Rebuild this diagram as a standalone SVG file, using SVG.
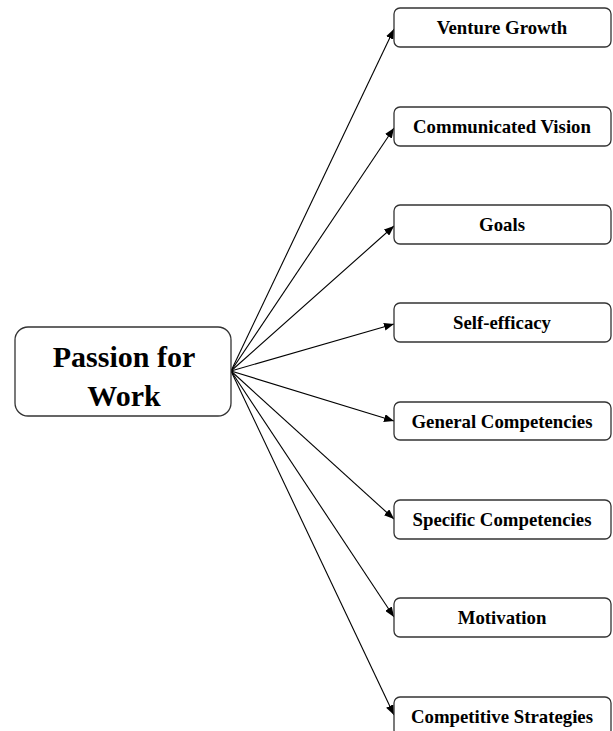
<svg xmlns="http://www.w3.org/2000/svg" width="613" height="731" viewBox="0 0 613 731">
<defs>
<marker id="ah" viewBox="0 0 10 8" refX="10" refY="4" markerWidth="10" markerHeight="8" markerUnits="userSpaceOnUse" orient="auto">
<path d="M0,0 L10,4 L0,8 Z" fill="#000"/>
</marker>
<style>
.box{fill:#fff;stroke:#333;stroke-width:1.3}
.lbl{font-family:"Liberation Serif","Times New Roman",serif;font-weight:bold;font-size:18.8px;fill:#000;text-anchor:middle}
.main{font-family:"Liberation Serif","Times New Roman",serif;font-weight:bold;font-size:30px;fill:#000;text-anchor:middle}
.con{stroke:#000;stroke-width:1.1;fill:none;marker-end:url(#ah)}
</style>
</defs>
<rect width="613" height="731" fill="#fff"/>
<g id="connectors">
<line class="con" x1="231" y1="371" x2="394" y2="29"/>
<line class="con" x1="231" y1="371" x2="394" y2="128"/>
<line class="con" x1="231" y1="371" x2="394" y2="226"/>
<line class="con" x1="231" y1="371" x2="394" y2="324"/>
<line class="con" x1="231" y1="371" x2="394" y2="421"/>
<line class="con" x1="231" y1="371" x2="394" y2="519"/>
<line class="con" x1="231" y1="371" x2="394" y2="617"/>
<line class="con" x1="231" y1="371" x2="394" y2="715"/>
</g>
<g id="passion">
<rect class="box" x="15" y="327" width="216" height="89" rx="13"/>
<text class="main" x="124" y="367">Passion for</text>
<text class="main" x="124" y="406">Work</text>
</g>
<g id="venture">
<rect class="box" x="394" y="8" width="217" height="39" rx="6"/>
<text class="lbl" x="502" y="34">Venture Growth</text>
</g>
<g id="vision">
<rect class="box" x="394" y="107" width="217" height="39" rx="6"/>
<text class="lbl" x="502" y="133">Communicated Vision</text>
</g>
<g id="goals">
<rect class="box" x="394" y="205" width="217" height="39" rx="6"/>
<text class="lbl" x="502" y="231">Goals</text>
</g>
<g id="selfefficacy">
<rect class="box" x="394" y="303" width="217" height="39" rx="6"/>
<text class="lbl" x="502" y="329">Self-efficacy</text>
</g>
<g id="general">
<rect class="box" x="394" y="402" width="217" height="38" rx="6"/>
<text class="lbl" x="502" y="428">General Competencies</text>
</g>
<g id="specific">
<rect class="box" x="394" y="500" width="217" height="39" rx="6"/>
<text class="lbl" x="502" y="526">Specific Competencies</text>
</g>
<g id="motivation">
<rect class="box" x="394" y="598" width="217" height="39" rx="6"/>
<text class="lbl" x="502" y="624">Motivation</text>
</g>
<g id="competitive">
<rect class="box" x="394" y="697" width="217" height="39" rx="6"/>
<text class="lbl" x="502" y="723">Competitive Strategies</text>
</g>
</svg>
